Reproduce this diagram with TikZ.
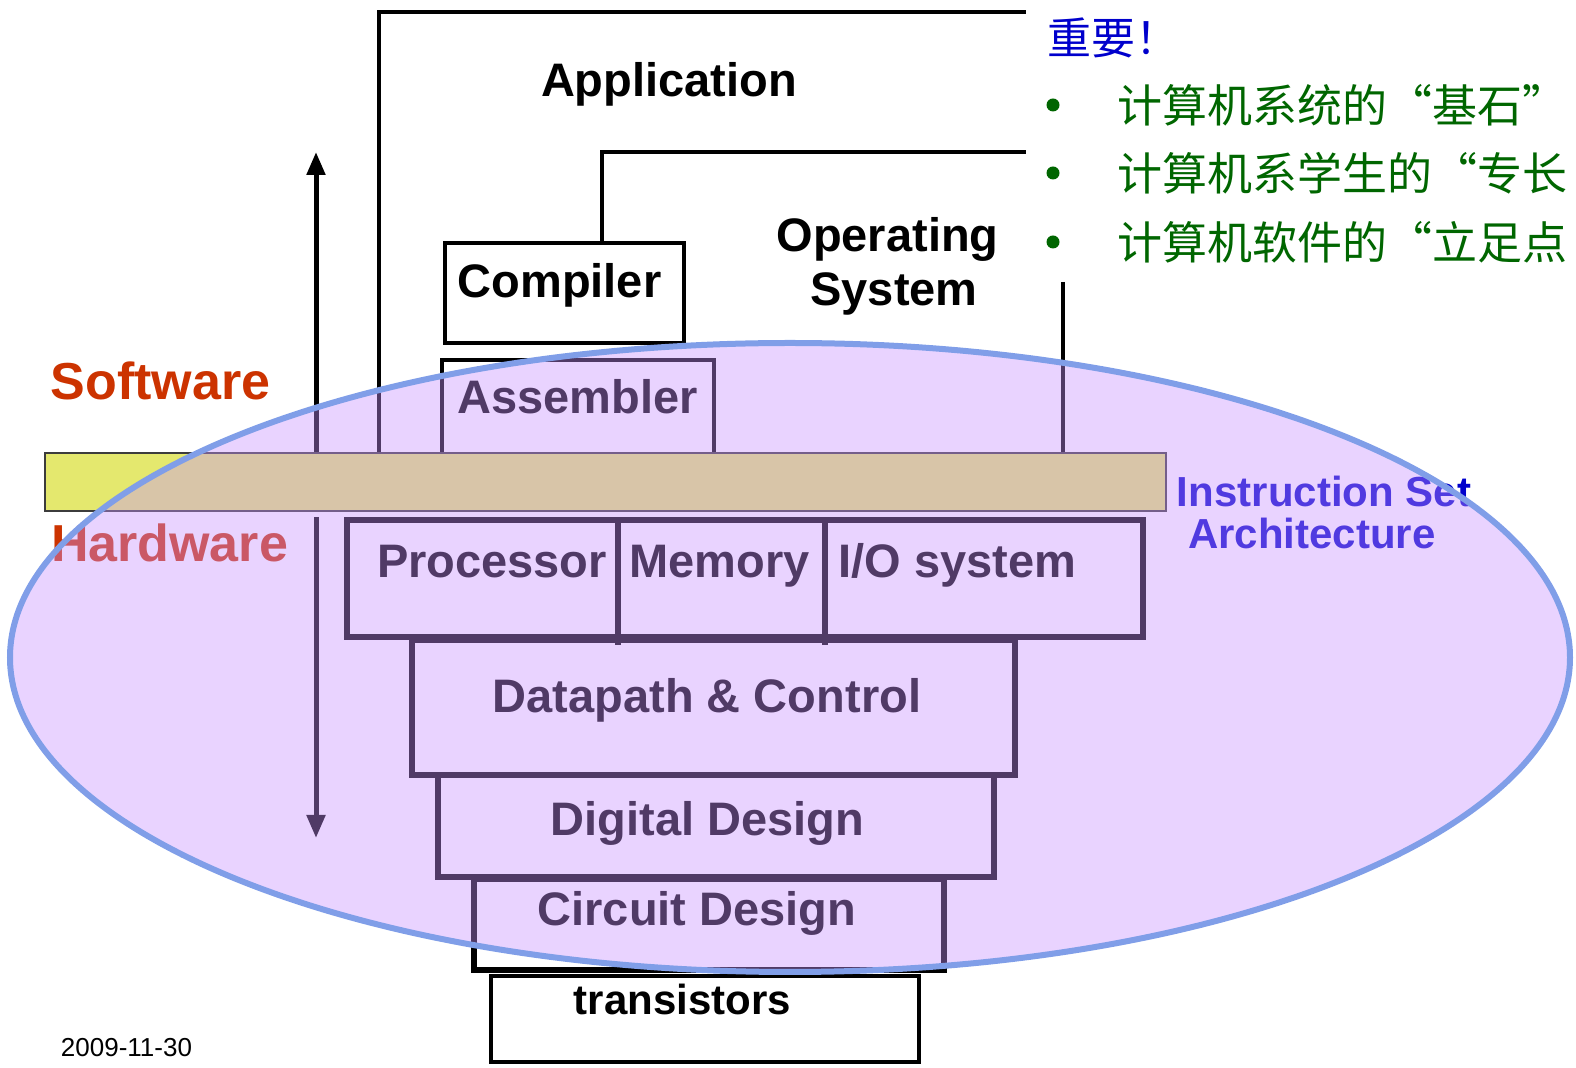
\documentclass[tikz,border=0pt]{standalone}
\usepackage{fontspec}
\setmainfont{Liberation Sans}
\newfontfamily\cjk{Noto Sans CJK SC}
\usetikzlibrary{arrows.meta}

\begin{document}
\begin{tikzpicture}[x=0.5pt,y=0.5pt,yscale=-1,
  lbl/.style={font=\bfseries\fontsize{23.5}{28}\selectfont, inner sep=0pt, anchor=base},
  side/.style={font=\bfseries\fontsize{26}{30}\selectfont, inner sep=0pt, anchor=base, color={rgb, 255:red, 204; green, 51; blue, 0 }},
  isa/.style={font=\bfseries\fontsize{21}{25}\selectfont, inner sep=0pt, anchor=base, color={rgb, 255:red, 0; green, 0; blue, 204 }},
  zh/.style={font=\cjk\fontsize{22.5}{27}\selectfont, inner sep=0pt, anchor=west, color={rgb, 255:red, 0; green, 102; blue, 0 }},
  dot/.style={circle, inner sep=0pt, minimum size=6.5pt, fill={rgb, 255:red, 0; green, 102; blue, 0 }},
  wire/.style={draw=black, line width=2.2pt},
  layer/.style={draw=black, line width=3pt}]
\clip (0,0) rectangle (1576,1068);

%Shape: Application frame
\draw [wire] (379,452) -- (379,12) -- (1026,12) ;
%Shape: Operating System frame
\draw [wire] (602,243) -- (602,152) -- (1026,152) ;
\draw [wire] (1063,282) -- (1063,452) ;
%Shape: Compiler box
\draw [wire] (445,243) rectangle (684,343) ;
%Shape: Assembler box
\draw [wire] (442,452) -- (442,360) -- (714,360) -- (714,452) ;

%Shape: Arrows
\coordinate (swbot) at (316,452);
\coordinate (swtop) at (316,152);
\coordinate (hwtop) at (316,517);
\coordinate (hwbot) at (316,838);
\draw [wire, line width=2.5pt, -{Triangle[length=11.5pt,width=9pt]}] (swbot) -- (swtop) ;
\draw [wire, line width=2.5pt, -{Triangle[length=11.5pt,width=9pt]}] (hwtop) -- (hwbot) ;

%Shape: Instruction set bar
\draw [draw={rgb, 255:red, 60; green, 60; blue, 60 }, line width=1pt, fill={rgb, 255:red, 228; green, 232; blue, 110 }] (45,453) rectangle (1166,511) ;

%Shape: Hardware layers
\draw [layer] (347,520) rectangle (1143,637) ;
\draw [layer] (618,520) -- (618,645) ;
\draw [layer] (825,520) -- (825,645) ;
\draw [layer] (412,640) rectangle (1015,775) ;
\draw [layer] (438,775) rectangle (994,877) ;
\draw [layer] (474,879) rectangle (944,970) ;
\draw [draw=black, line width=2pt] (491,976) rectangle (919,1062) ;

% Text Node
\draw (669,97) node (app) [lbl] {Application};
% Text Node
\draw (559.5,298) node (comp) [lbl] {Compiler};
% Text Node
\draw (887.5,252) node (os1) [lbl] {Operating};
% Text Node
\draw (894,306) node (os2) [lbl] {System};
% Text Node
\draw (577.5,414) node (asm) [lbl] {Assembler};
% Text Node
\draw (492,578) node (proc) [lbl] {Processor};
% Text Node
\draw (719.5,578) node (mem) [lbl] {Memory};
% Text Node
\draw (957.5,578) node (io) [lbl] {I/O system};
% Text Node
\draw (707,713) node (dpc) [lbl] {Datapath \& Control};
% Text Node
\draw (707.5,836) node (dig) [lbl] {Digital Design};
% Text Node
\draw (697,926) node (circ) [lbl] {Circuit Design};
% Text Node
\draw (682.5,1015) node (trans) [lbl, font=\bfseries\fontsize{21}{25}\selectfont] {transistors};
% Text Node
\draw (160.5,400) node (sw) [side] {Software};
% Text Node
\draw (169.5,562) node (hw) [side] {Hardware};
% Text Node
\draw (1324,507) node (isa1) [isa] {Instruction Set};
% Text Node
\draw (1312,549) node (isa2) [isa] {Architecture};

%Shape: Ellipse
\fill [fill={rgb, 255:red, 200; green, 145; blue, 255 }, fill opacity=0.4] (790,657.5) ellipse [x radius=780, y radius=314.5] ;
\draw [draw={rgb, 255:red, 128; green, 158; blue, 232 }, line width=3pt] (790,657.5) ellipse [x radius=780, y radius=314.5] ;

% Text Node
\draw (1047,38) node (imp) [zh, font=\cjk\fontsize{22}{26}\selectfont, color={rgb, 255:red, 0; green, 0; blue, 204 }] {重要！};
% Text Node
\draw (1053,105) node (b1) [dot] {};
\draw (1117,105) node (z1) [zh] {计算机系统的“基石”};
% Text Node
\draw (1053,173) node (b2) [dot] {};
\draw (1117,173) node (z2) [zh] {计算机系学生的“专长};
% Text Node
\draw (1053,242) node (b3) [dot] {};
\draw (1117,242) node (z3) [zh] {计算机软件的“立足点};
% Text Node
\draw (126.5,1057) node (date) [inner sep=0pt, anchor=base, font=\fontsize{13}{16}\selectfont] {2009-11-30};
\end{tikzpicture}
\end{document}
